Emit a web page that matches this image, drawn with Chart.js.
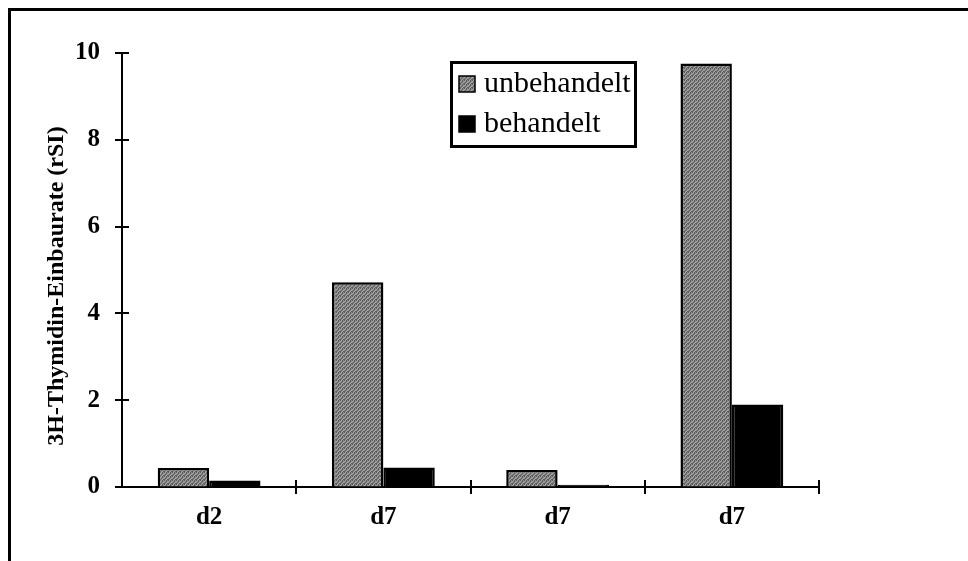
<!DOCTYPE html>
<html>
<head>
<meta charset="utf-8">
<script src="https://cdn.jsdelivr.net/npm/chart.js@4.4.0/dist/chart.umd.min.js"></script>
<style>
  html, body { margin: 0; padding: 0; background: #fff; }
  #wrap { width: 968px; height: 561px; position: relative; }
</style>
</head>
<body>
<div id="wrap"><canvas id="thymidinChart"></canvas></div>
<script>
var categories = ['d2', 'd7', 'd7', 'd7'];
var unbehandelt = [0.44, 4.72, 0.39, 9.76];
var behandelt = [0.15, 0.45, 0.05, 1.90];
var seriesNames = ['unbehandelt', 'behandelt'];
var yTitle = '3H-Thymidin-Einbaurate (rSI)';

var serif = "'Liberation Serif', 'Times New Roman', serif";

// dithered grey fill like the original
function makeGreyPattern() {
    var c = document.createElement('canvas');
    c.width = 4; c.height = 4;
    var g = c.getContext('2d');
    g.fillStyle = '#8a8a8a';
    g.fillRect(0, 0, 4, 4);
    g.fillStyle = '#5a5a5a';
    [[0,0],[2,1],[1,2],[3,3],[2,0],[0,3]].forEach(function(p) {
        g.fillRect(p[0], p[1], 1, 1);
    });
    g.fillStyle = '#a8a8a8';
    [[1,0],[3,2],[0,1],[2,3]].forEach(function(p) {
        g.fillRect(p[0], p[1], 1, 1);
    });
    return g.createPattern(c, 'repeat');
}
var greyFill = makeGreyPattern();

var decorPlugin = {
    id: 'decor',
    afterDraw: function(chart) {
        var ctx = chart.ctx;
        var area = chart.chartArea;
        var x = chart.scales.x, y = chart.scales.y;
        ctx.save();
        ctx.strokeStyle = '#000';

        // outer frame (top and left edges visible)
        ctx.lineWidth = 3;
        ctx.beginPath();
        ctx.moveTo(9.5, chart.height);
        ctx.lineTo(9.5, 9.5);
        ctx.lineTo(chart.width, 9.5);
        ctx.stroke();

        // tick marks crossing the axes
        ctx.lineWidth = 2;
        ctx.beginPath();
        y.ticks.forEach(function(t) {
            var py = Math.round(y.getPixelForValue(t.value));
            ctx.moveTo(area.left - 7, py);
            ctx.lineTo(area.left + 7, py);
        });
        for (var i = 1; i <= categories.length; i++) {
            var px = Math.round(x.getPixelForValue(i - 0.5));
            ctx.moveTo(px, area.bottom - 7);
            ctx.lineTo(px, area.bottom + 7);
        }
        ctx.stroke();

        // y axis title
        ctx.save();
        ctx.translate(57, 286);
        ctx.rotate(-Math.PI / 2);
        ctx.font = 'bold 24px ' + serif;
        ctx.fillStyle = '#000';
        ctx.textAlign = 'center';
        ctx.textBaseline = 'middle';
        ctx.fillText(yTitle, 0, 0);
        ctx.restore();

        // legend box
        ctx.lineWidth = 3;
        ctx.strokeRect(451.5, 62.5, 184, 84);
        var fills = [greyFill, '#000'];
        ctx.font = '30px ' + serif;
        ctx.textAlign = 'left';
        ctx.textBaseline = 'alphabetic';
        seriesNames.forEach(function(name, k) {
            var sy = 76 + k * 40;
            ctx.fillStyle = fills[k];
            ctx.fillRect(459, sy, 16, 16);
            ctx.lineWidth = 1.5;
            ctx.strokeRect(459, sy, 16, 16);
            ctx.fillStyle = '#000';
            ctx.fillText(name, 484, sy + 16);
        });
        ctx.restore();
    }
};

var ctx = document.getElementById('thymidinChart').getContext('2d');
new Chart(ctx, {
    type: 'bar',
    data: {
        labels: categories,
        datasets: [{
            label: seriesNames[0],
            data: unbehandelt,
            backgroundColor: greyFill,
            borderColor: '#000',
            borderWidth: 2.5
        }, {
            label: seriesNames[1],
            data: behandelt,
            backgroundColor: '#000',
            borderColor: '#000',
            borderWidth: 2.5
        }]
    },
    options: {
        responsive: true,
        maintainAspectRatio: false,
        animation: false,
        categoryPercentage: 0.59,
        barPercentage: 1,
        layout: {
            padding: { left: 0, right: 149, top: 53, bottom: 0 }
        },
        plugins: {
            legend: { display: false },
            tooltip: { enabled: false }
        },
        scales: {
            y: {
                min: 0,
                max: 10,
                ticks: {
                    stepSize: 2,
                    padding: 22,
                    color: '#000',
                    font: { family: serif, size: 25, weight: 'bold' }
                },
                grid: { drawOnChartArea: false, drawTicks: false },
                border: { color: '#000', width: 2 },
                afterFit: function(scale) { scale.width = 122; }
            },
            x: {
                ticks: {
                    padding: 16,
                    color: '#000',
                    font: { family: serif, size: 25, weight: 'bold' }
                },
                grid: { drawOnChartArea: false, drawTicks: false },
                border: { color: '#000', width: 2 },
                afterFit: function(scale) { scale.height = 74; }
            }
        }
    },
    plugins: [decorPlugin]
});
</script>
</body>
</html>
